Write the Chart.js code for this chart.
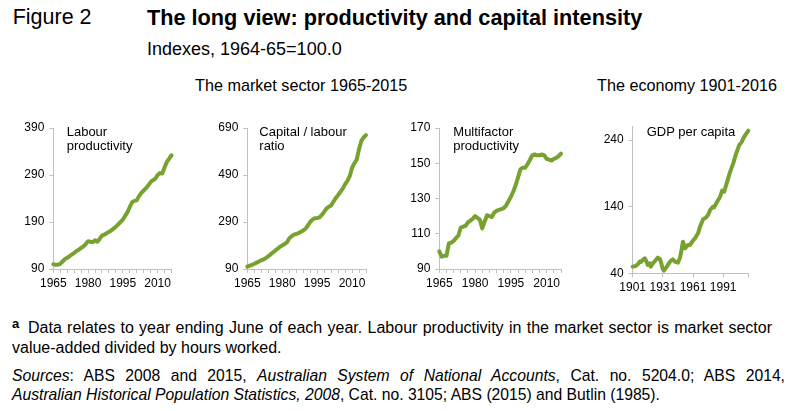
<!DOCTYPE html>
<html lang="en">
<head>
<meta charset="UTF-8" />
<title>Figure 2 - The long view: productivity and capital intensity</title>
<script src="https://cdn.jsdelivr.net/npm/chart.js"></script>
<style>
  body { margin: 0; background: #fff; font-family: 'Liberation Sans', Arial, sans-serif; color: #000; }
  #page { position: relative; width: 799px; height: 411px; overflow: hidden; }
  .t { position: absolute; white-space: nowrap; line-height: 1; }
  .j { white-space: normal; text-align: justify; text-align-last: justify; }
  .lab { position: absolute; font-size: 13px; line-height: 14.5px; white-space: nowrap; }
  canvas { position: absolute; }
</style>
</head>
<body>
<div id="page">
  <div class="t" style="left:12.7px; top:6.8px; font-size:21.5px;">Figure 2</div>
  <div class="t" style="left:147px; top:6.8px; font-size:21.7px; font-weight:bold;">The long view: productivity and capital intensity</div>
  <div class="t" style="left:147px; top:39.8px; font-size:18px;">Indexes, 1964-65=100.0</div>
  <div class="t" style="left:195px; top:77.2px; font-size:16.2px;">The market sector 1965-2015</div>
  <div class="t" style="left:597px; top:77.2px; font-size:16.2px;">The economy 1901-2016</div>

  <canvas id="c1" width="180" height="185" style="left:0px; top:110px;"></canvas>
  <canvas id="c2" width="185" height="185" style="left:190px; top:110px;"></canvas>
  <canvas id="c3" width="185" height="185" style="left:385px; top:110px;"></canvas>
  <canvas id="c4" width="180" height="190" style="left:585px; top:110px;"></canvas>

  <div class="lab" style="left:66.7px; top:124.9px;">Labour<br>productivity</div>
  <div class="lab" style="left:259.3px; top:124.9px;">Capital / labour<br>ratio</div>
  <div class="lab" style="left:453.3px; top:124.9px;">Multifactor<br>productivity</div>
  <div class="lab" style="left:646.7px; top:124.9px;">GDP per capita</div>

  <div class="t" style="left:12px; top:317px; font-size:13px; font-weight:bold;">a</div>
  <div class="t j" style="left:28px; top:319.5px; width:744px; font-size:16px;">Data relates to year ending June of each year. Labour productivity in the market sector is market sector</div>
  <div class="t" style="left:12px; top:339.5px; font-size:16px;">value-added divided by hours worked.</div>
  <div class="t j" style="left:12px; top:367.5px; width:773px; font-size:15.7px;"><i>Sources</i>: ABS 2008 and 2015, <i>Australian System of National Accounts</i>, Cat. no. 5204.0; ABS 2014,</div>
  <div class="t" style="left:12px; top:386.5px; font-size:15.7px;"><i>Australian Historical Population Statistics, 2008</i>, Cat. no. 3105; ABS (2015) and Butlin (1985).</div>
</div>

<script>
  // Market sector, year ending June
  const marketYears = [
    1965, 1966, 1967, 1968, 1969, 1970, 1971, 1972, 1973, 1974,
    1975, 1976, 1977, 1978, 1979, 1980, 1981, 1982, 1983, 1984,
    1985, 1986, 1987, 1988, 1989, 1990, 1991, 1992, 1993, 1994,
    1995, 1996, 1997, 1998, 1999, 2000, 2001, 2002, 2003, 2004,
    2005, 2006, 2007, 2008, 2009, 2010, 2011, 2012, 2013, 2014,
    2015, 2016
  ];
  const labourProductivity = [
    100, 99, 99, 101, 106, 111, 114, 117, 121, 124,
    128, 131, 135, 138, 143, 149, 148, 147, 151, 148,
    154, 161, 163, 166, 169, 172, 176, 180, 185, 190,
    195, 203, 211, 222, 232, 235, 236, 245, 252, 257,
    262, 268, 275, 279, 282, 290, 294, 293, 306, 318,
    325, 332
  ];
  const capitalLabourRatio = [
    100, 104, 107, 112, 117, 122, 127, 131, 137, 144,
    152, 160, 168, 176, 184, 191, 196, 203, 220, 229,
    236, 239, 243, 248, 254, 261, 275, 290, 300, 306,
    307, 310, 320, 333, 347, 355, 360, 376, 392, 404,
    418, 432, 450, 465, 485, 520, 540, 555, 600, 635,
    650, 660
  ];
  const multifactorProductivity = [
    100, 97, 97.5, 97.5, 104.5, 105, 106, 107.5, 109, 113.5,
    114, 114.5, 116.5, 117.5, 118.5, 120, 119, 118, 113, 117,
    120.5, 120, 119.5, 122, 123, 123.5, 124, 124.5, 126, 128.5,
    131, 134, 137.5, 142, 146.5, 147.5, 147.5, 149.5, 152, 154.5,
    155, 154.5, 154.5, 155, 154.5, 152.5, 152, 151.5, 152.5, 153,
    154, 155.5
  ];

  // Whole economy
  const gdpYears = [
    1901, 1904, 1906, 1908, 1909, 1911, 1913, 1914, 1916, 1918,
    1919, 1921, 1924, 1926, 1928, 1929, 1931, 1932, 1935, 1937,
    1939, 1941, 1943, 1946, 1948, 1949, 1951, 1953, 1956, 1958,
    1961, 1963, 1966, 1968, 1971, 1974, 1976, 1978, 1981, 1982,
    1985, 1988, 1990, 1992, 1995, 1998, 2001, 2004, 2007, 2009,
    2012, 2016
  ];
  const gdpPerCapita = [
    50, 51, 53.5, 57.5, 57, 60, 62.5, 60, 52.5, 55,
    50, 55, 60, 63.5, 61.5, 57.5, 46, 44, 50, 55,
    59, 61, 57.5, 56, 63.5, 70, 87.5, 77.5, 82.5, 82.5,
    89, 92.5, 100, 110, 121, 124, 127.5, 135, 140, 139,
    147.5, 155, 164, 162.5, 177.5, 192.5, 205, 220, 232.5, 236,
    245, 254
  ];

  // Tick positions and labels
  const marketTicks = [1965, 1968, 1971, 1974, 1977, 1980, 1983, 1986, 1989, 1992,
                       1995, 1998, 2001, 2004, 2007, 2010, 2013, 2016];
  const marketLabels = [1965, 1980, 1995, 2010];
  const gdpTicks = [1901, 1931, 1961, 1991, 2016];
  const gdpLabels = [1901, 1931, 1961, 1991];
  const labourTicks = [90, 190, 290, 390];
  const capitalTicks = [90, 290, 490, 690];
  const mfpTicks = [90, 110, 130, 150, 170];
  const gdpValueTicks = [40, 140, 240];

  const green = '#78a22f';
  const axisGrey = '#bfbfbf';

  Chart.defaults.font.family = "'Liberation Sans', Arial, sans-serif";
  Chart.defaults.font.size = 12;
  Chart.defaults.color = '#000';

  function panel(id, xs, ys, xMin, xMax, xTicks, xLabels, yMin, yMax, yTicks, box) {
    new Chart(document.getElementById(id), {
      type: 'line',
      data: {
        datasets: [{
          data: xs.map((x, i) => ({ x: x, y: ys[i] })),
          borderColor: green,
          borderWidth: 4,
          pointRadius: 0,
          borderJoinStyle: 'round',
          borderCapStyle: 'round',
          tension: 0,
          clip: false
        }]
      },
      options: {
        responsive: false,
        animation: false,
        events: [],
        layout: { padding: { left: 0, top: box.padTop, right: box.padRight, bottom: 0 } },
        plugins: { legend: { display: false }, tooltip: { enabled: false } },
        scales: {
          x: {
            type: 'linear',
            min: xMin,
            max: xMax,
            afterBuildTicks: s => { s.ticks = xTicks.map(v => ({ value: v })); },
            afterFit: s => { s.height = box.xHeight; },
            ticks: {
              autoSkip: false,
              maxRotation: 0,
              padding: 3,
              callback: v => xLabels.includes(v) ? String(v) : ''
            },
            grid: { drawOnChartArea: false, tickLength: 4, color: axisGrey },
            border: { color: axisGrey }
          },
          y: {
            type: 'linear',
            min: yMin,
            max: yMax,
            afterBuildTicks: s => { s.ticks = yTicks.map(v => ({ value: v })); },
            afterFit: s => { s.width = box.yWidth; },
            ticks: { padding: 5, callback: v => String(v) },
            grid: { drawOnChartArea: false, tickLength: 4, color: axisGrey },
            border: { color: axisGrey }
          }
        }
      }
    });
  }

  panel('c1', marketYears, labourProductivity, 1965, 2016, marketTicks, marketLabels, 90, 390, labourTicks,
        { yWidth: 53.3, padTop: 18, xHeight: 26, padRight: 8.5 });
  panel('c2', marketYears, capitalLabourRatio, 1965, 2016, marketTicks, marketLabels, 90, 690, capitalTicks,
        { yWidth: 57.3, padTop: 18, xHeight: 26, padRight: 9 });
  panel('c3', marketYears, multifactorProductivity, 1965, 2016, marketTicks, marketLabels, 90, 170, mfpTicks,
        { yWidth: 54.3, padTop: 18, xHeight: 26, padRight: 9 });
  panel('c4', gdpYears, gdpPerCapita, 1901, 2016, gdpTicks, gdpLabels, 40, 260, gdpValueTicks,
        { yWidth: 47.7, padTop: 16.7, xHeight: 26.7, padRight: 16.7 });
</script>
</body>
</html>
